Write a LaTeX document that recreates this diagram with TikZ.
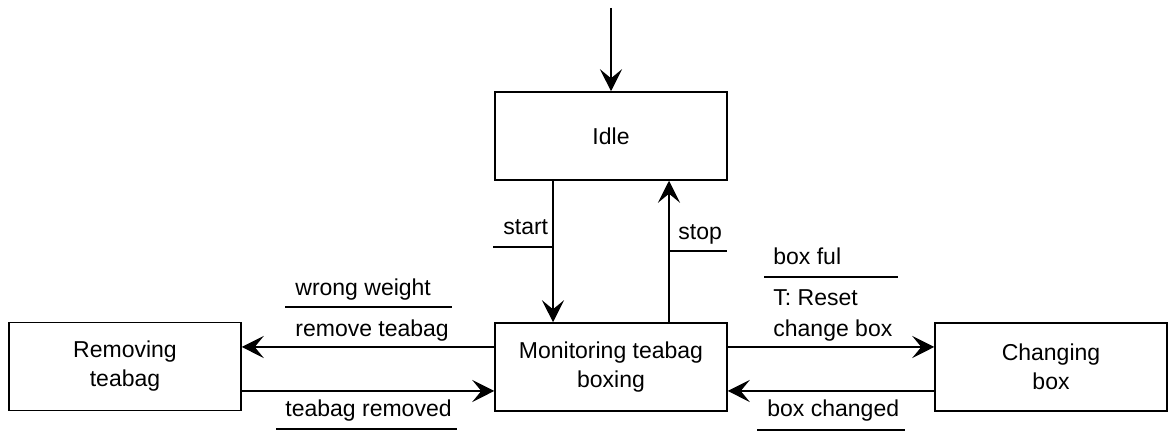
\documentclass[tikz,border=0pt]{standalone}
\usepackage{fontspec}
\setmainfont{Liberation Sans}
\usetikzlibrary{arrows.meta,calc}
\begin{document}
\begin{tikzpicture}[x=0.5pt,y=-0.5pt,
  state/.style={draw,line width=0.75pt,minimum width=116pt,minimum height=44pt,inner sep=0pt,align=center,font=\fontsize{11.5}{14.5}\selectfont},
  lbl/.style={inner sep=0pt,font=\fontsize{11.5}{14.5}\selectfont},
  conn/.style={line width=0.75pt,-{Stealth[length=11pt,width=11pt,inset=4.5pt]}},
  uline/.style={line width=0.75pt}]
\useasboundingbox (0,0) rectangle (1174,431);
\node[state] (idle) at (611,136) {Idle};
\node[state] (mon) at (611,367) {Monitoring teabag\\boxing};
\node[state] (rem) at (125,366.5) {Removing\\teabag};
\node[state] (chg) at (1051,367) {Changing\\box};
\coordinate (init) at (611,8);
\draw[conn] (init) -- (idle.north);
% start / stop
\draw[conn] ($(idle.south)+(-58,0)$) -- ($(mon.north)+(-58,0)$);
\draw[conn] ($(mon.north)+(58,0)$) -- ($(idle.south)+(58,0)$);
\node[lbl,anchor=base west] (lstart) at (503,235) {start};
\draw[uline] (493,247) -- (553,247);
\node[lbl,anchor=base west] (lstop) at (678,240) {stop};
\draw[uline] (669,251) -- (727,251);
% left transitions
\draw[conn] ($(mon.west)+(0,-20)$) -- ($(rem.east)+(0,-19.5)$);
\draw[conn] ($(rem.east)+(0,24.5)$) -- ($(mon.west)+(0,24)$);
\node[lbl,anchor=base west] (lww) at (295,296) {wrong weight};
\draw[uline] (285,307) -- (452,307);
\node[lbl,anchor=base west] (lrt) at (295,337) {remove teabag};
\node[lbl,anchor=base west] (ltr) at (285,417) {teabag removed};
\draw[uline] (276,429) -- (457,429);
% right transitions
\draw[conn] ($(mon.east)+(0,-20)$) -- ($(chg.west)+(0,-20)$);
\draw[conn] ($(chg.west)+(0,24)$) -- ($(mon.east)+(0,24)$);
\node[lbl,anchor=base west] (lbf) at (773,265) {box ful};
\draw[uline] (764,277) -- (898,277);
\node[lbl,anchor=base west] (ltr2) at (773,306) {T: Reset};
\node[lbl,anchor=base west] (lcb) at (773,337) {change box};
\node[lbl,anchor=base west] (lbc) at (767,417) {box changed};
\draw[uline] (757,430) -- (905,430);
\end{tikzpicture}
\end{document}
